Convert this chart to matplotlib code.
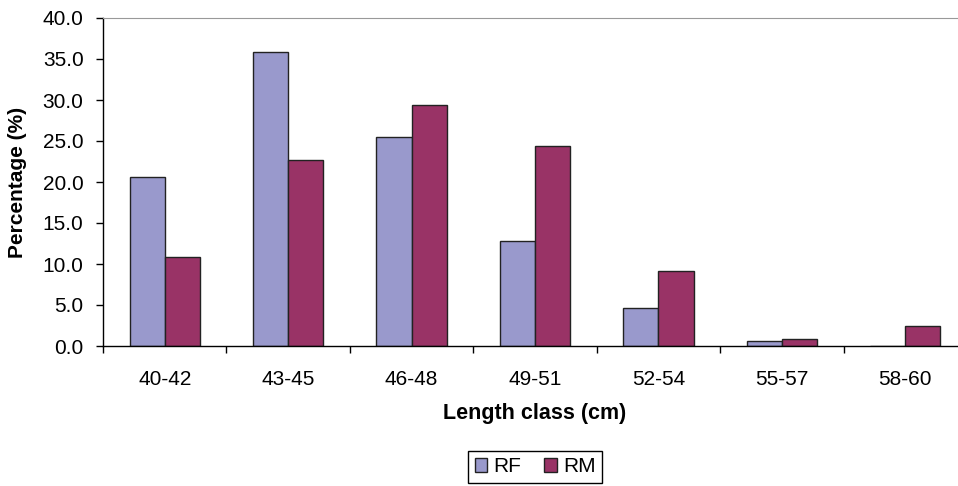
import numpy as np
import matplotlib
matplotlib.use('Agg')
import matplotlib.pyplot as plt
from matplotlib.ticker import FixedLocator, FormatStrFormatter

plt.rcParams['font.family'] = ['Liberation Sans', 'DejaVu Sans']

# data
classes = ['40-42', '43-45', '46-48', '49-51', '52-54', '55-57', '58-60']
rf = [20.6, 35.8, 25.5, 12.8, 4.6, 0.6, 0.0]
rm = [10.8, 22.7, 29.4, 24.4, 9.2, 0.9, 2.5]

fig = plt.figure(figsize=(9.58, 4.86), dpi=100)
ax = fig.add_axes([103 / 958, 1 - 346 / 486, 864 / 958, 328 / 486])

x = np.arange(len(classes))
w = 0.285
ax.bar(x - w / 2, rf, w, color='#9999CC', edgecolor='#222222', linewidth=1, label='RF')
ax.bar(x + w / 2, rm, w, color='#993366', edgecolor='#222222', linewidth=1, label='RM')

ax.set_xlim(-0.5, len(classes) - 0.5)
ax.set_ylim(0, 40)
ax.set_yticks(np.arange(0, 40.1, 5))
ax.yaxis.set_major_formatter(FormatStrFormatter('%.1f'))
ax.tick_params(axis='y', length=5, width=1, pad=9, labelsize=15, colors='black')

ax.set_xticks(x)
ax.set_xticklabels(classes)
ax.xaxis.set_minor_locator(FixedLocator(np.arange(-0.5, len(classes), 1)))
ax.tick_params(axis='x', which='major', length=0, pad=17, labelsize=15)
ax.tick_params(axis='x', which='minor', length=5, width=1, direction='out')

ax.spines['top'].set_color('#999999')
ax.spines['right'].set_visible(False)
ax.spines['left'].set_linewidth(1)
ax.spines['bottom'].set_linewidth(1)

ax.set_ylabel('Percentage (%)', fontsize=15, fontweight='bold')
ax.yaxis.set_label_coords(-(103 - 27) / 864, 0.5)
ax.set_xlabel('Length class (cm)', fontsize=15.5, fontweight='bold')
ax.xaxis.set_label_coords((535 - 103) / 864, -(414 - 346) / 328)
ax.xaxis.label.set_va('center')

fig.legend(loc='upper center', bbox_to_anchor=(535 / 958, 1 - 451 / 486),
           ncol=2, frameon=True, fancybox=False, edgecolor='black',
           framealpha=1, fontsize=15, handlelength=0.6, handleheight=0.6,
           handletextpad=0.3, columnspacing=1.1, borderpad=0.3,
           borderaxespad=0)

fig.savefig('out.png', dpi=100)
